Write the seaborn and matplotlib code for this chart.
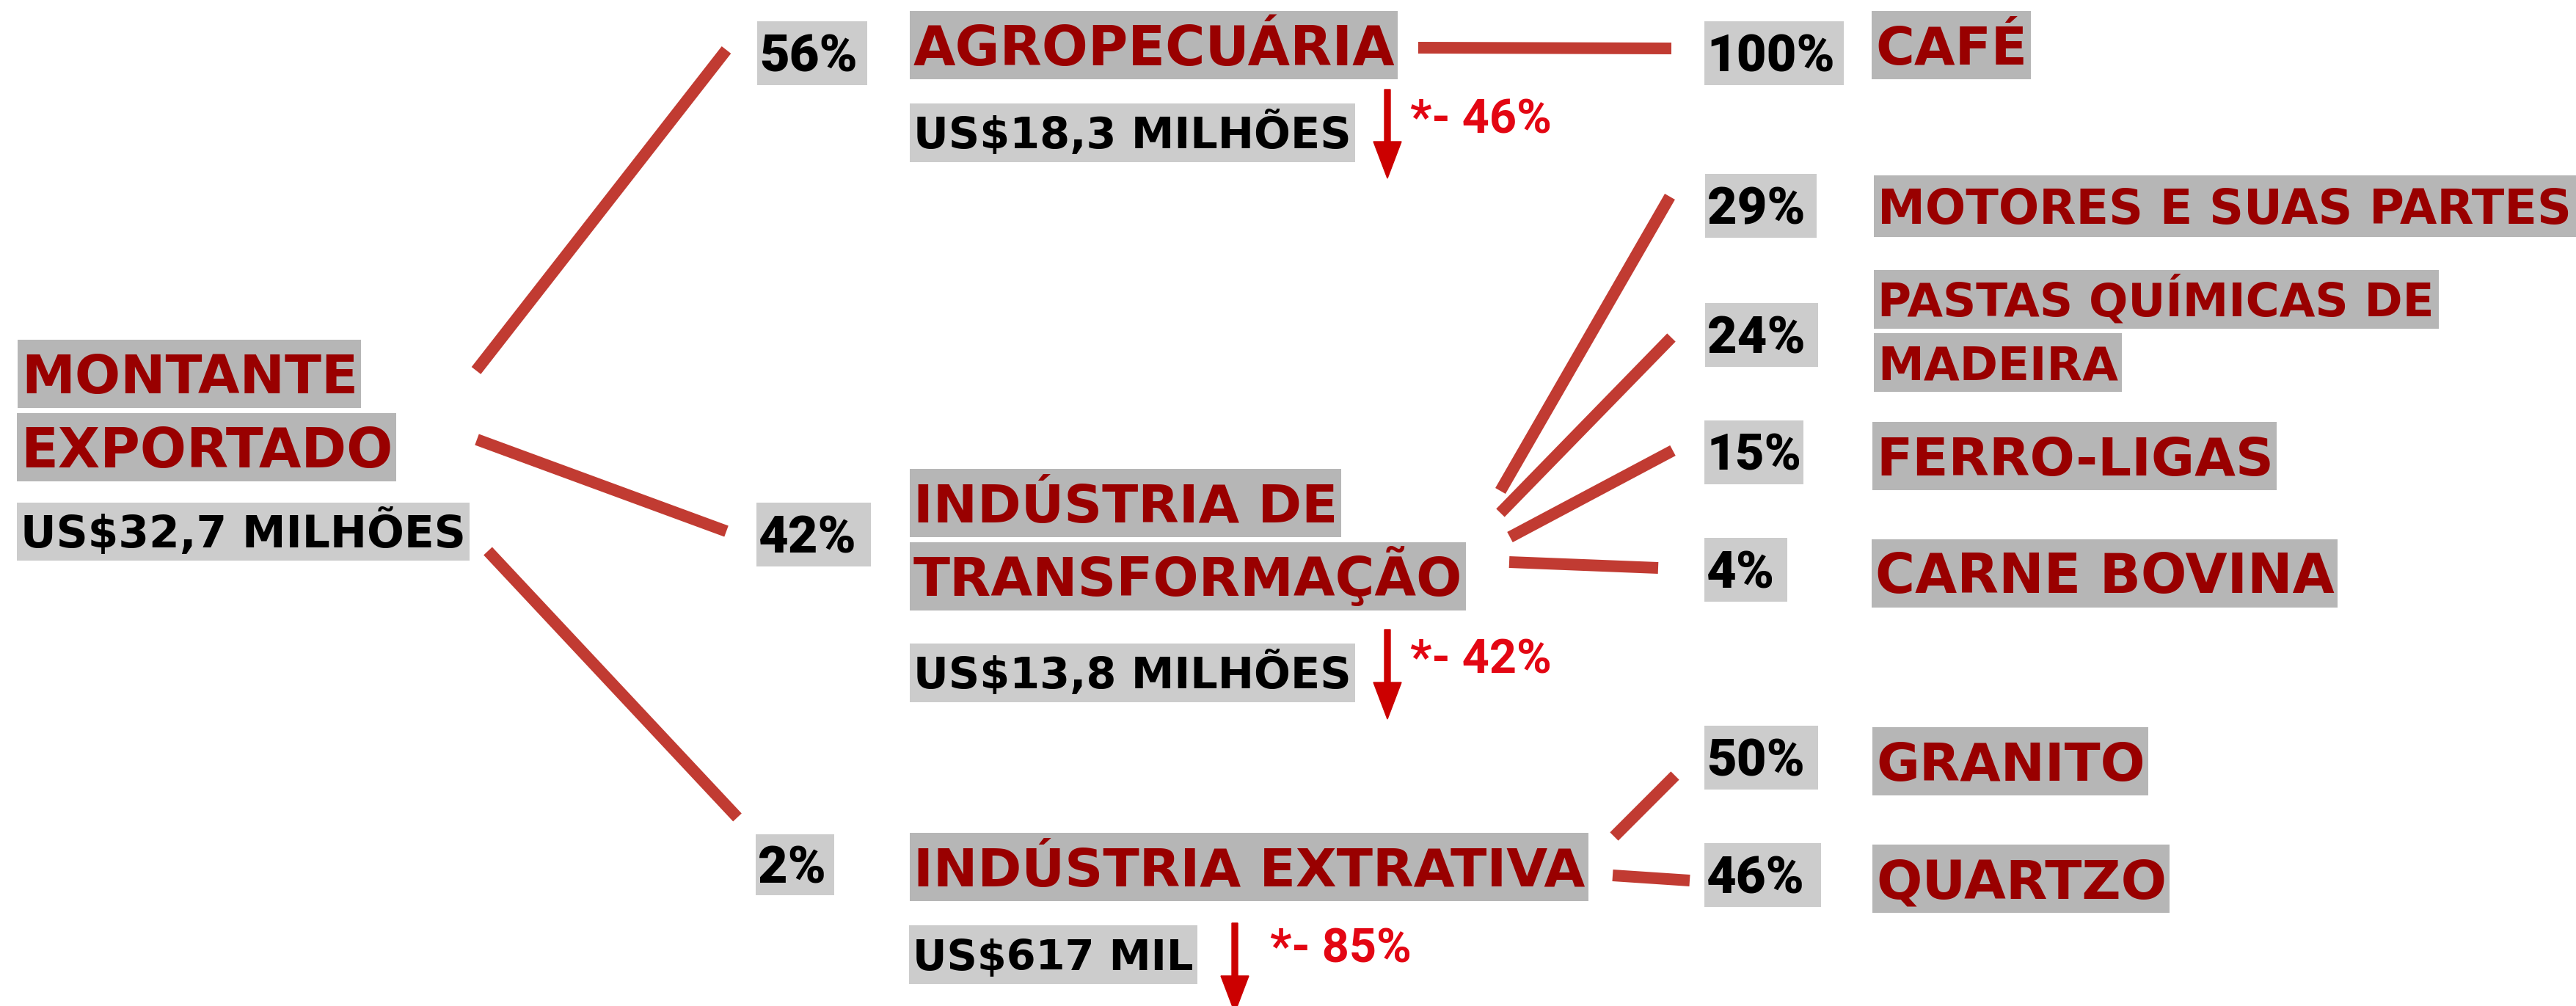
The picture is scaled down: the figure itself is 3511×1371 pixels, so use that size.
import numpy as np
import pandas as pd
import matplotlib
matplotlib.use("Agg")
import matplotlib.pyplot as plt
import seaborn as sns
from matplotlib.patches import Rectangle

# ---------------- data ----------------
total_label = ["MONTANTE", "EXPORTADO"]
total_value = "US$32,7 MILHÕES"

sector_names = [["AGROPECUÁRIA"], ["INDÚSTRIA DE", "TRANSFORMAÇÃO"], ["INDÚSTRIA EXTRATIVA"]]
sector_share = [56, 42, 2]
sector_value = ["US$18,3 MILHÕES", "US$13,8 MILHÕES", "US$617 MIL"]
sector_change = [-46, -42, -85]

product_names = [
    [["CAFÉ"]],
    [["MOTORES E SUAS PARTES"], ["PASTAS QUÍMICAS DE", "MADEIRA"], ["FERRO-LIGAS"], ["CARNE BOVINA"]],
    [["GRANITO"], ["QUARTZO"]],
]
product_share = [[100], [29, 24, 15, 4], [50, 46]]

# ---------------- layout (pixel space) ----------------
W, H = 3511, 1371
total_label_boxes = [(24, 463, 492, 556), (23, 563, 540, 656)]
total_value_box = (23, 685, 640, 764)
sector_share_boxes = [(1032, 29, 1182, 116), (1031, 685, 1187, 772), (1030, 1137, 1137, 1220)]
sector_name_boxes = [[(1240, 15, 1905, 108)],
                     [(1240, 639, 1828, 732), (1240, 739, 1998, 832)],
                     [(1240, 1135, 2165, 1228)]]
sector_value_boxes = [(1240, 141, 1847, 221), (1240, 877, 1847, 957), (1239, 1261, 1632, 1341)]
arrow_specs = [(1891, 122, 243), (1891, 858, 980), (1683, 1258, 1380)]
change_pos = [(1922, 182), (1922, 917), (1731, 1312)]
product_share_boxes = [[(2323, 29, 2513, 116)],
                       [(2324, 237, 2476, 324), (2324, 413, 2478, 500), (2323, 573, 2458, 660), (2323, 733, 2436, 820)],
                       [(2323, 989, 2478, 1076), (2323, 1149, 2482, 1236)]]
product_name_boxes = [[[(2551, 15, 2768, 108)]],
                      [[(2554, 239, 3511, 323)], [(2554, 368, 3324, 448), (2554, 454, 2892, 534)],
                       [(2552, 575, 3103, 668)], [(2551, 735, 3186, 828)]],
                      [[(2552, 991, 2928, 1084)], [(2552, 1151, 2957, 1244)]]]
product_caps = [[55], [48, 47, 55, 55], [55, 55]]
level1_links = [((649, 505), (990, 68)), ((650, 599), (990, 724)), ((665, 751), (1005, 1114))]
level2_links = [[((1933, 65), (2278, 66))],
                [((2045, 669), (2276, 268)), ((2045, 699), (2278, 460)),
                 ((2058, 732), (2280, 614)), ((2057, 766), (2260, 774))],
                [((2200, 1140), (2283, 1057)), ((2198, 1193), (2303, 1200))]]

# ---------------- style ----------------
DARK_RED = "#990000"
CAT_BG = "#b6b6b6"
VAL_BG = "#cccccc"
LINK = "#c13b32"
ARROW = "#cc0000"
CHANGE = "#e30613"

sns.set_theme(style="white")
plt.rcParams["font.family"] = ["DejaVu Sans"]

fig = plt.figure(figsize=(W / 100, H / 100), dpi=100)
fig.patch.set_facecolor("white")
ax = fig.add_axes([0, 0, 1, 1])
renderer = fig.canvas.get_renderer()

FONTS = {"dv": (["DejaVu Sans"], 0.729, "bold"),
         "rb": (["Roboto", "DejaVu Sans"], 0.711, "black")}


def boxed_text(text, box, fg, bg, cap, pad=5, font="dv"):
    fam, ratio, weight = FONTS[font]
    x0, y0, x1, y1 = box
    ax.add_patch(Rectangle((x0, y0), x1 - x0, y1 - y0, facecolor=bg, edgecolor="none", zorder=1))
    fs = cap / ratio * 0.72
    t = ax.text(x0 + pad, 0, text, fontsize=fs, fontweight=weight, color=fg,
                ha="left", va="baseline", zorder=2, family=fam)
    w = t.get_window_extent(renderer).width
    target = (x1 - x0) - 2 * pad
    if w > target:
        fs *= target / w
        t.set_fontsize(fs)
    cap_px = fs / 0.72 * ratio
    t.set_y((y0 + y1) / 2 + cap_px / 2)
    return t


# connector lines via seaborn
rows = []
seg = 0
for (a, b) in level1_links:
    rows += [dict(x=a[0], y=a[1], seg=seg), dict(x=b[0], y=b[1], seg=seg)]
    seg += 1
for group in level2_links:
    for (a, b) in group:
        rows += [dict(x=a[0], y=a[1], seg=seg), dict(x=b[0], y=b[1], seg=seg)]
        seg += 1
links = pd.DataFrame(rows)
sns.lineplot(data=links, x="x", y="y", units="seg", estimator=None, sort=False,
             color=LINK, linewidth=11.5, solid_capstyle="butt", ax=ax, legend=False)
ax.set_xlim(0, W)
ax.set_ylim(H, 0)
ax.axis("off")

# level 0
for txt, box in zip(total_label, total_label_boxes):
    boxed_text(txt, box, DARK_RED, CAT_BG, 55)
boxed_text(total_value, total_value_box, "black", VAL_BG, 47)

# level 1
for i in range(3):
    boxed_text(f"{sector_share[i]}%", sector_share_boxes[i], "black", VAL_BG, 50, pad=3, font="rb")
    for txt, box in zip(sector_names[i], sector_name_boxes[i]):
        boxed_text(txt, box, DARK_RED, CAT_BG, 55)
    boxed_text(sector_value[i], sector_value_boxes[i], "black", VAL_BG, 47)
    x, y0, y1 = arrow_specs[i]
    ax.arrow(x, y0, 0, y1 - y0, width=8, head_width=38, head_length=50,
             length_includes_head=True, color=ARROW, zorder=3, clip_on=False)
    cx, cy = change_pos[i]
    ax.text(cx, cy, f"*- {abs(sector_change[i])}%", fontsize=46 / 0.711 * 0.72,
            fontweight="bold", color=CHANGE, family=["Roboto", "DejaVu Sans"],
            ha="left", va="baseline", zorder=2)

# level 2
for i in range(3):
    for j, share in enumerate(product_share[i]):
        boxed_text(f"{share}%", product_share_boxes[i][j], "black", VAL_BG, 50, pad=3, font="rb")
        for txt, box in zip(product_names[i][j], product_name_boxes[i][j]):
            boxed_text(txt, box, DARK_RED, CAT_BG, product_caps[i][j])

fig.savefig("out.png", dpi=100, facecolor="white")
